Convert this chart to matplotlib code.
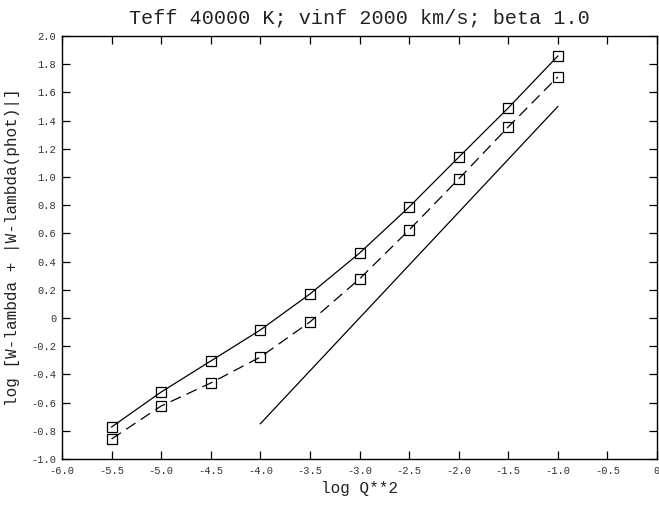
import matplotlib
matplotlib.use("Agg")
import matplotlib.pyplot as plt

logq2 = [-5.5, -5.0, -4.5, -4.0, -3.5, -3.0, -2.5, -2.0, -1.5, -1.0]
upper = [-0.773, -0.525, -0.305, -0.085, 0.17, 0.46, 0.787, 1.14, 1.49, 1.858]
lower = [-0.858, -0.624, -0.461, -0.277, -0.028, 0.277, 0.624, 0.986, 1.355, 1.71]
ref_x = [-4.0, -1.0]
ref_y = [-0.75, 1.5]

xticks = [-6.0, -5.5, -5.0, -4.5, -4.0, -3.5, -3.0, -2.5, -2.0, -1.5, -1.0, -0.5, 0.0]
xticklabels = ["-6.0", "-5.5", "-5.0", "-4.5", "-4.0", "-3.5", "-3.0", "-2.5", "-2.0", "-1.5", "-1.0", "-0.5", "0"]
yticks = [-1.0, -0.8, -0.6, -0.4, -0.2, 0.0, 0.2, 0.4, 0.6, 0.8, 1.0, 1.2, 1.4, 1.6, 1.8, 2.0]
yticklabels = ["-1.0", "-0.8", "-0.6", "-0.4", "-0.2", "0", "0.2", "0.4", "0.6", "0.8", "1.0", "1.2", "1.4", "1.6", "1.8", "2.0"]

plt.rcParams['font.family'] = ['Liberation Mono', 'DejaVu Sans Mono']

fig = plt.figure(figsize=(6.59, 5.05), dpi=100)
ax = fig.add_axes([62/659, 46/505, 595/659, 423/505])

ax.plot(logq2, upper, color='black', lw=0.9, marker='s', ms=7.5, mfc='none', mec='black', mew=0.9)
ax.plot(logq2, lower, color='black', lw=0.9, ls=(0, (9, 5)), marker='s', ms=7.5, mfc='none', mec='black', mew=0.9)
ax.plot(ref_x, ref_y, color='black', lw=0.9)

ax.set_xlim(-6.0, 0.0)
ax.set_ylim(-1.0, 2.0)
ax.set_xticks(xticks)
ax.set_xticklabels(xticklabels, fontsize=7.5, color='#333333')
ax.set_yticks(yticks)
ax.set_yticklabels(yticklabels, fontsize=7.5, color='#333333')
ax.tick_params(direction='in', length=6, width=0.9, top=True, right=True)
ax.tick_params(axis='x', pad=5)
ax.tick_params(axis='y', pad=4)
for s in ax.spines.values():
    s.set_linewidth(1.0)

ax.set_title("Teff 40000 K; vinf 2000 km/s; beta 1.0", fontsize=14.5, pad=9, color='#222222')
ax.set_xlabel("log Q**2", fontsize=11.5, labelpad=4, color='#222222')
ax.set_ylabel("log [W-lambda + |W-lambda(phot)|]", fontsize=11.5, labelpad=8, color='#222222')

fig.savefig("out.png", dpi=100)
